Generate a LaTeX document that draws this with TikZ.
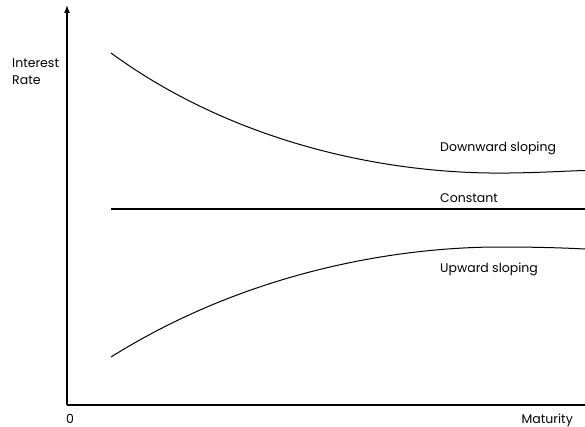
\documentclass[tikz,border=0pt]{standalone}
\usepackage{fontspec}
\setmainfont{Poppins}
\usepackage{tikz}
\usetikzlibrary{arrows.meta}

\begin{document}
\begin{tikzpicture}[x=1pt,y=-1pt,
	label text/.style={font=\fontsize{12.5}{17}\selectfont,inner sep=0pt},
	axis line/.style={line width=1.3pt},
	curve line/.style={line width=1pt}]
	\useasboundingbox (0,0) rectangle (585,427);
	% axes
	\coordinate (origin) at (67,405);
	\coordinate (ytop) at (67,5);
	\coordinate (xend) at (585,405);
	\draw[axis line,-{Latex[length=8pt,width=6pt]}] (origin) -- (ytop);
	\draw[axis line] (origin) -- (xend);
	\node[label text,anchor=west,align=left] (ylabel) at (12,72) {Interest\\Rate};
	\node[label text,anchor=base west] (zero) at (66,423) {0};
	\node[label text,anchor=base east] (xlabel) at (573,423) {Maturity};
	% the three curves
	\coordinate (down start) at (111,53);
	\coordinate (down low) at (510,173);
	\coordinate (down end) at (585,170.5);
	\draw[curve line] (down start) .. controls (230,140) and (380,175) .. (down low)
		.. controls (545,172.5) and (565,171) .. (down end);
	\coordinate (const start) at (111,209);
	\coordinate (const end) at (585,209);
	\draw[axis line] (const start) -- (const end);
	\coordinate (up start) at (111,357);
	\coordinate (up top) at (500,247);
	\coordinate (up end) at (585,249);
	\draw[curve line] (up start) .. controls (250,270) and (400,247) .. (up top)
		.. controls (540,247) and (565,248) .. (up end);
	\node[label text,anchor=base west] (down) at (440,152) {Downward sloping};
	\node[label text,anchor=base west] (const) at (440,203) {Constant};
	\node[label text,anchor=base west] (up) at (440,272) {Upward sloping};
\end{tikzpicture}
\end{document}
